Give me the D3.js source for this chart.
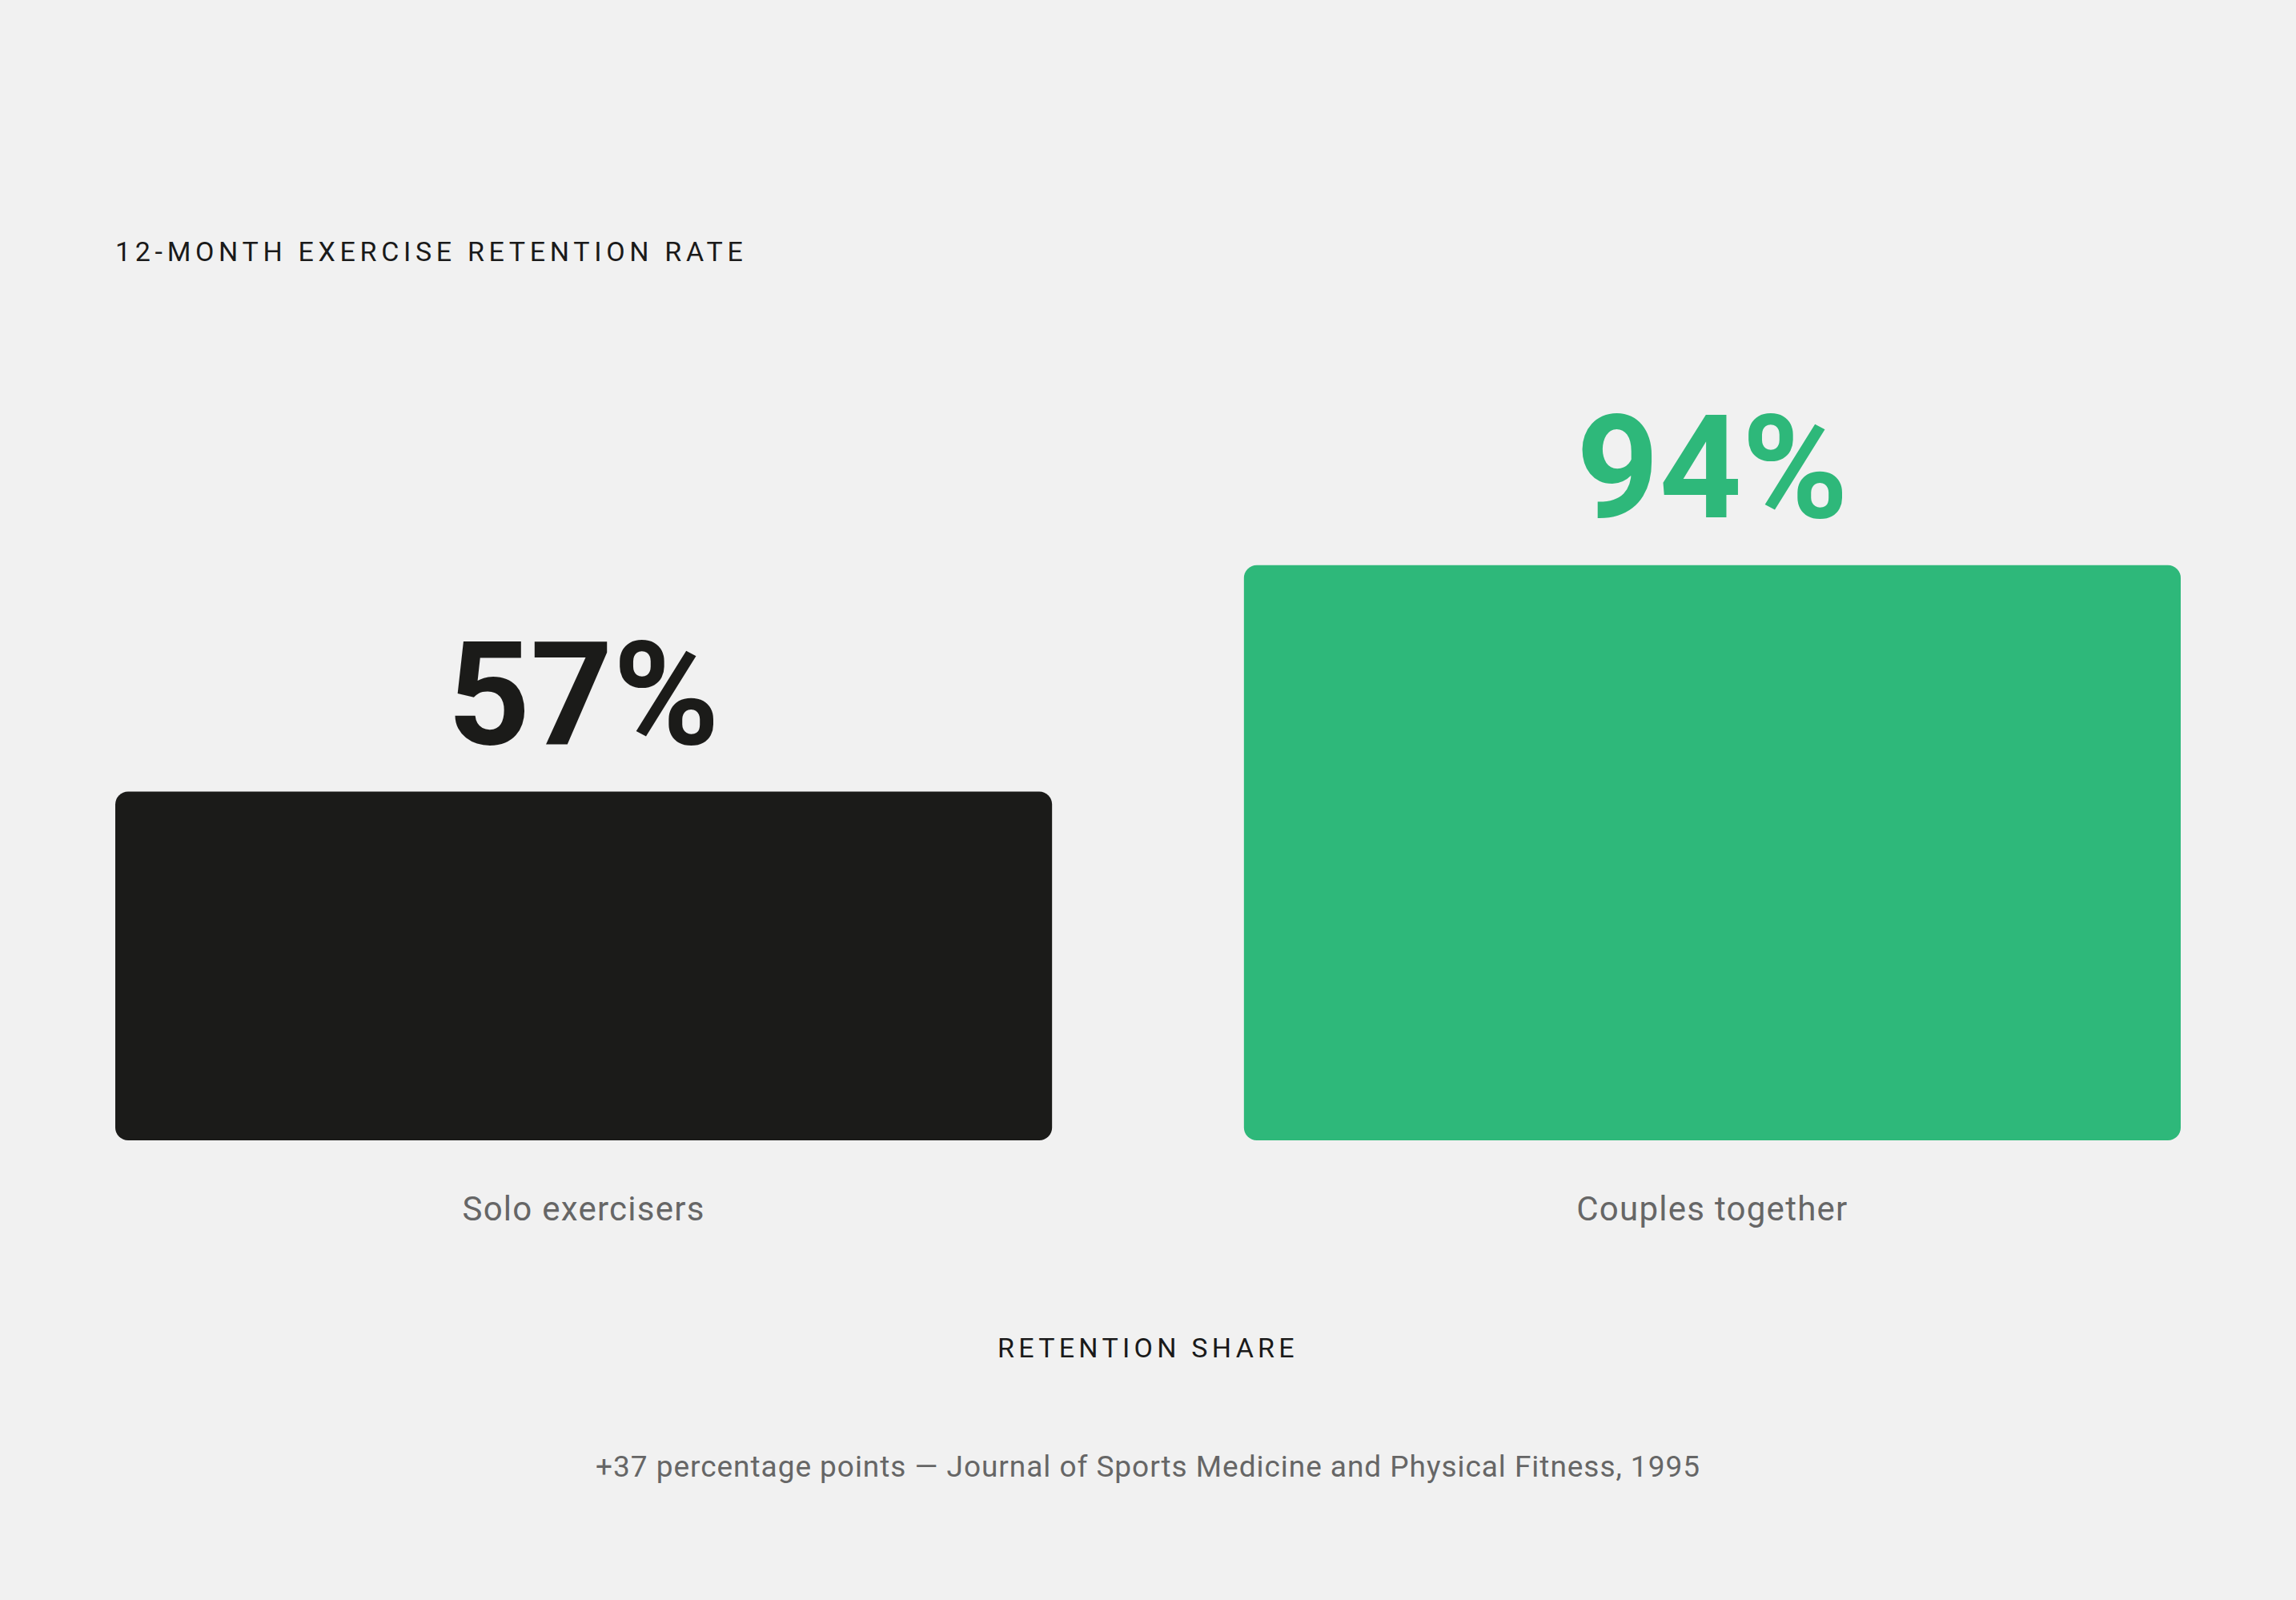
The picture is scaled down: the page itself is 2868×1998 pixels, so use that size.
<!DOCTYPE html>
<html>
<head>
<meta charset="utf-8">
<script src="https://cdn.jsdelivr.net/npm/d3@7"></script>
<style>
  html, body { margin: 0; padding: 0; background: #f1f1f1; }
  svg { display: block; font-family: Roboto, "Noto Sans", sans-serif; }
</style>
</head>
<body>
<div id="chart"></div>
<script>
const categories = ["Solo exercisers", "Couples together"];
const retention = [57, 94];
const barColors = ["#1b1b19", "#2eb87a"];
const valueLabels = ["57%", "94%"];

const chartTitle = "12-MONTH EXERCISE RETENTION RATE";
const axisTitle = "RETENTION SHARE";
const footnote = "+37 percentage points \u2014 Journal of Sports Medicine and Physical Fitness, 1995";

const width = 2868, height = 1998;
const margin = { left: 144, right: 144, baseline: 1424 };

const svg = d3.select("#chart").append("svg")
    .attr("width", width)
    .attr("height", height);

svg.append("rect")
    .attr("width", width)
    .attr("height", height)
    .attr("fill", "#f1f1f1");

const x = d3.scaleBand()
    .domain(categories)
    .range([margin.left, width - margin.right])
    .paddingInner(0.17)
    .paddingOuter(0);

const y = d3.scaleLinear()
    .domain([0, 100])
    .range([margin.baseline, 660]);

const data = categories.map((c, i) => ({
    category: c,
    value: retention[i],
    color: barColors[i],
    label: valueLabels[i]
}));

// title
svg.append("text")
    .attr("x", margin.left)
    .attr("y", 326)
    .attr("font-size", 34)
    .attr("letter-spacing", "0.167em")
    .attr("fill", "#1a1a1a")
    .text(chartTitle);

// bars
svg.selectAll(".bar")
    .data(data)
    .join("rect")
    .attr("class", "bar")
    .attr("x", d => x(d.category))
    .attr("y", d => y(d.value))
    .attr("width", x.bandwidth())
    .attr("height", d => y(0) - y(d.value))
    .attr("rx", 16)
    .attr("fill", d => d.color);

// value labels
svg.selectAll(".value")
    .data(data)
    .join("text")
    .attr("class", "value")
    .attr("x", d => x(d.category) + x.bandwidth() / 2)
    .attr("y", d => y(d.value) - 60)
    .attr("text-anchor", "middle")
    .attr("font-size", 180)
    .attr("font-weight", 700)
    .attr("fill", d => d.color)
    .text(d => d.label);

// category labels
svg.selectAll(".cat")
    .data(data)
    .join("text")
    .attr("class", "cat")
    .attr("x", d => x(d.category) + x.bandwidth() / 2)
    .attr("y", 1524)
    .attr("text-anchor", "middle")
    .attr("font-size", 42)
    .attr("letter-spacing", "0.03em")
    .attr("fill", "#666666")
    .text(d => d.category);

// axis title
svg.append("text")
    .attr("x", width / 2)
    .attr("y", 1695)
    .attr("text-anchor", "middle")
    .attr("font-size", 34)
    .attr("letter-spacing", "0.155em")
    .attr("fill", "#1a1a1a")
    .text(axisTitle);

// footnote
svg.append("text")
    .attr("x", width / 2)
    .attr("y", 1844)
    .attr("text-anchor", "middle")
    .attr("font-size", 37)
    .attr("letter-spacing", "0.026em")
    .attr("fill", "#666666")
    .text(footnote);
</script>
</body>
</html>
